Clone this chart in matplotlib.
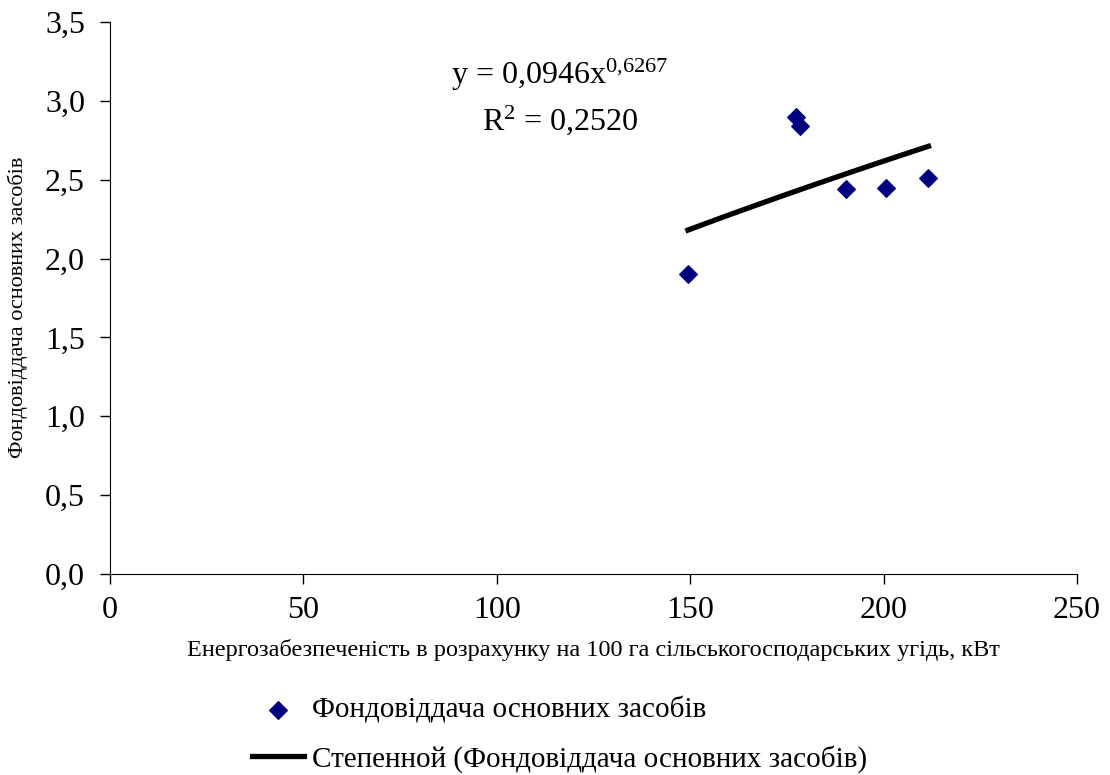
import matplotlib
matplotlib.use('Agg')
import matplotlib.pyplot as plt
import numpy as np
from matplotlib.ticker import FuncFormatter, MultipleLocator

plt.rcParams['font.family'] = ['Liberation Serif', 'DejaVu Serif']
plt.rcParams['mathtext.fontset'] = 'custom'
plt.rcParams['mathtext.rm'] = 'Liberation Serif'
plt.rcParams['mathtext.it'] = 'Liberation Serif'

# Енергозабезпеченість (кВт на 100 га) та фондовіддача
energy = [149.4, 177.4, 178.5, 190.4, 200.6, 211.6]
returns = [1.90, 2.90, 2.84, 2.44, 2.45, 2.51]

# Степенева лінія тренду y = a * x^b
coef_a = 0.0946
coef_b = 0.6267
r2 = 0.2520

series_label = 'Фондовіддача основних засобів'
trend_label = 'Степенной (Фондовіддача основних засобів)'
x_label = 'Енергозабезпеченість в розрахунку на 100 га сільськогосподарських угідь, кВт'

fig = plt.figure(figsize=(11.1, 7.75), dpi=100)
ax = fig.add_axes([0.0991, 0.2594, 0.8712, 0.7122])

sc = ax.scatter(energy, returns, marker='D', s=80, color='#000080', zorder=3,
                label=series_label)
xt = np.linspace(min(energy), max(energy), 100)
ln, = ax.plot(xt, coef_a * xt ** coef_b, color='black', lw=3.8, zorder=2,
              label=trend_label)

ax.set_xlim(0, 250)
ax.set_ylim(0, 3.5)
ax.xaxis.set_major_locator(MultipleLocator(50))
ax.yaxis.set_major_locator(MultipleLocator(0.5))
ax.yaxis.set_major_formatter(FuncFormatter(lambda v, p: f'{v:.1f}'.replace('.', ',')))
ax.tick_params(labelsize=23, length=7, width=1, pad=11)
ax.tick_params(axis='x', pad=9)
for s in ['top', 'right']:
    ax.spines[s].set_visible(False)

ax.set_xlabel(x_label, fontsize=17.5, labelpad=10)
ax.set_ylabel(series_label, fontsize=16)
ax.yaxis.set_label_coords(-0.085, 0.483)

eq = 'y = %s' % f'{coef_a:.4f}'.replace('.', ',')
fig.text(0.5045, 0.903, eq + r'x$^{\mathrm{%s}}$' % f'{coef_b:.4f}'.replace('.', '{,}'),
         fontsize=23, ha='center', va='center')
fig.text(0.5045, 0.845, r'R$^{\mathrm{2}}$ = ' + f'{r2:.4f}'.replace('.', ','),
         fontsize=23, ha='center', va='center')

fig.legend(handles=[sc, ln], labels=[series_label, trend_label],
           loc='upper left', bbox_to_anchor=(0.227, 0.101), frameon=False,
           fontsize=21, handlelength=1.8, handletextpad=0.25, labelspacing=0.72,
           borderaxespad=0, borderpad=0)

fig.savefig('out.png', dpi=100)
